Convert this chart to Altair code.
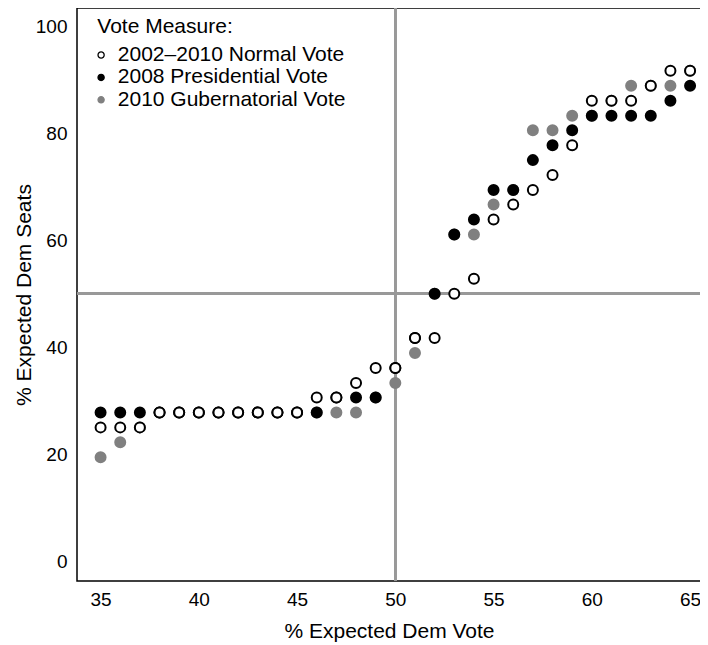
import altair as alt
import pandas as pd

# ---- data ----
vote = list(range(35, 66))  # % Expected Dem Vote
measures = ["2002–2010 Normal Vote", "2008 Presidential Vote", "2010 Gubernatorial Vote"]

normal = [25.0, 25.0, 25.0,
          27.8, 27.8, 27.8, 27.8, 27.8, 27.8, 27.8, 27.8,
          30.6, 30.6, 33.3, 36.1, 36.1, 41.7, 41.7, 50.0, 52.8, 63.9,
          66.7, 69.4, 72.2, 77.8, 86.1, 86.1, 86.1, 88.9, 91.7, 91.7]
presidential = [27.8, 27.8, 27.8,
                27.8, 27.8, 27.8, 27.8, 27.8, 27.8, 27.8, 27.8,
                27.8, 30.6, 30.6, 30.6, 36.1, 41.7, 50.0, 61.1, 63.9, 69.4,
                69.4, 75.0, 77.8, 80.6, 83.3, 83.3, 83.3, 83.3, 86.1, 88.9]
gubernatorial = [19.4, 22.2, 25.0,
                 27.8, 27.8, 27.8, 27.8, 27.8, 27.8, 27.8, 27.8,
                 27.8, 27.8, 27.8, 30.6, 33.3, 38.9, 50.0, 61.1, 61.1, 66.7,
                 69.4, 80.6, 80.6, 83.3, 83.3, 86.1, 88.9, 88.9, 88.9, 91.7]

fills = ["white", "black", "#808080"]
strokes = ["black", "black", "#808080"]
draw_order = [2, 1, 0]  # gubernatorial drawn first, normal vote on top

rows = []
for m, series, d in zip(measures, [normal, presidential, gubernatorial], draw_order):
    for v, s in zip(vote, series):
        rows.append({"vote": v, "seats": s, "measure": m, "draw": d})
df = pd.DataFrame(rows).sort_values("draw", kind="stable")

FONT = "Liberation Sans"

xscale = alt.Scale(domain=[33.8, 65.556], nice=False, zero=False)
yscale = alt.Scale(domain=[-3.74, 103.46], nice=False, zero=False)

xaxis = alt.Axis(values=[35, 40, 45, 50, 55, 60, 65], title="% Expected Dem Vote",
                 labelPadding=9, titleBaseline="alphabetic", titleY=56)
yaxis = alt.Axis(values=[0, 20, 40, 60, 80, 100], title="% Expected Dem Seats",
                 labelPadding=10, titleBaseline="alphabetic", titleX=-47)

vrule = alt.Chart(df).mark_rule(color="#999999", strokeWidth=2).encode(
    x=alt.datum(50, scale=xscale, axis=xaxis, type="quantitative"))
hrule = alt.Chart(df).mark_rule(color="#999999", strokeWidth=2).encode(
    y=alt.datum(50, scale=yscale, axis=yaxis, type="quantitative"))

legend = alt.Legend(title="Vote Measure:", orient="none", legendX=20.3, legendY=7.5,
                    symbolType="circle", symbolSize=38, symbolStrokeWidth=1.3,
                    symbolOffset=-6.7, labelOffset=6.2, padding=0, titlePadding=8,
                    rowPadding=0.4, labelLimit=0, titleLimit=0)

points = alt.Chart(df).mark_point(size=100, strokeWidth=2, opacity=1, filled=False).encode(
    x=alt.X("vote:Q", scale=xscale, axis=xaxis),
    y=alt.Y("seats:Q", scale=yscale, axis=yaxis),
    fill=alt.Fill("measure:N", scale=alt.Scale(domain=measures, range=fills), legend=legend),
    stroke=alt.Stroke("measure:N", scale=alt.Scale(domain=measures, range=strokes), legend=legend),
    order=alt.Order("draw:Q"),
)

chart = alt.layer(vrule, hrule, points).properties(
    width=624, height=573,
    autosize=alt.AutoSizeParams(type="none"),
    padding={"left": 69, "top": 0, "right": -1, "bottom": 64},
).configure_view(
    stroke="black", strokeWidth=1.5
).configure_axis(
    labelFont=FONT, labelFontSize=19, labelColor="black",
    titleFont=FONT, titleFontSize=21, titleFontWeight="normal", titleColor="black",
    ticks=False, tickSize=0, domain=False, grid=False,
).configure_legend(
    titleFont=FONT, titleFontSize=21, titleFontWeight="normal", titleColor="black",
    labelFont=FONT, labelFontSize=21, labelColor="black",
)

chart.save("out.html", embed_options={"renderer": "svg", "actions": False})
